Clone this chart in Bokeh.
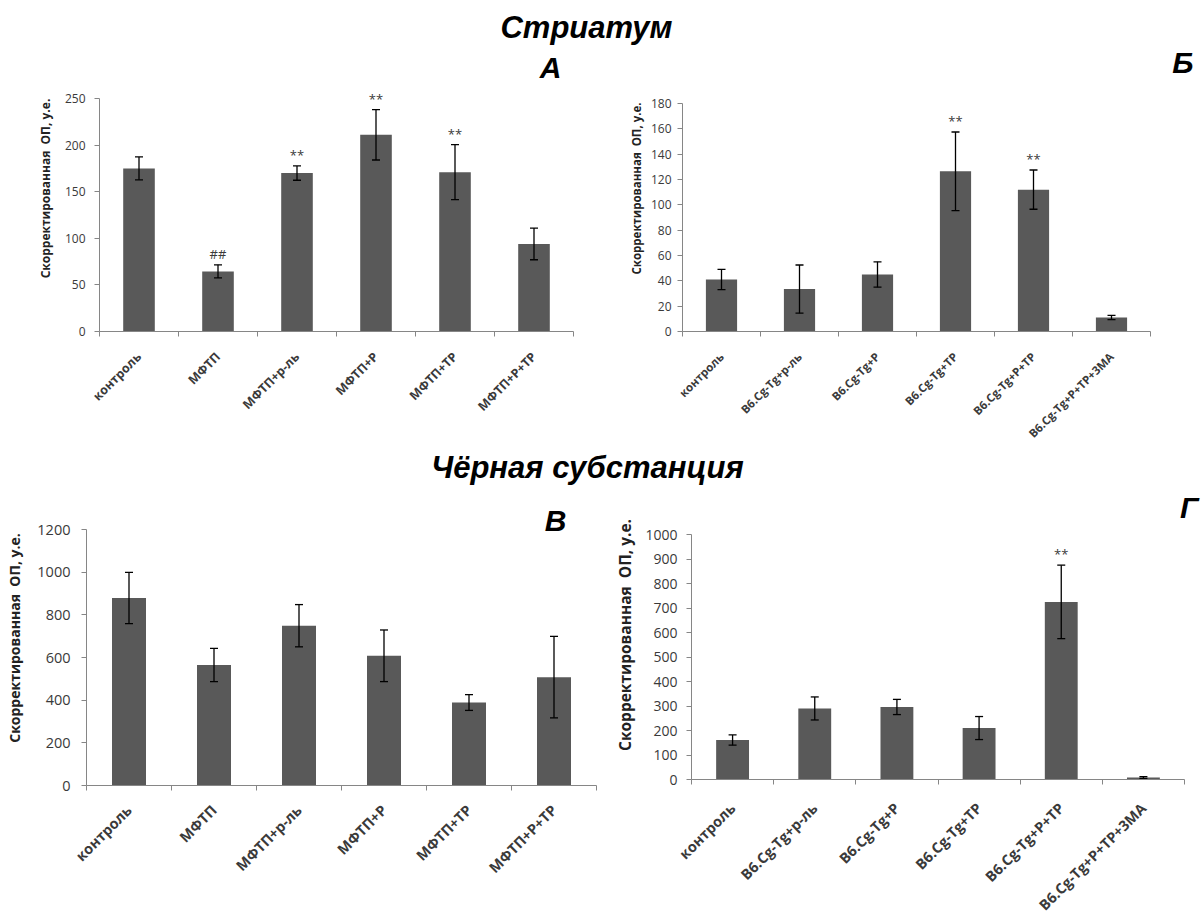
from math import pi

from bokeh.core.properties import value
from bokeh.embed import file_html
from bokeh.layouts import column, row
from bokeh.models import (ColumnDataSource, FixedTicker, Label, LabelSet,
                          Range1d)
from bokeh.plotting import figure
from bokeh.resources import INLINE

# ---- groups -------------------------------------------------------------
mptp_groups = ["контроль", "МФТП", "МФТП+р-ль", "МФТП+Р", "МФТП+ТР", "МФТП+Р+ТР"]
tg_groups = ["контроль", "B6.Cg-Tg+р-ль", "B6.Cg-Tg+Р", "B6.Cg-Tg+ТР",
             "B6.Cg-Tg+Р+ТР", "B6.Cg-Tg+Р+ТР+3МА"]

# ---- striatum, MPTP model (А) -------------------------------------------
str_mptp_mean = [175, 64.5, 170, 211, 171, 94]
str_mptp_sem = [12.3, 7, 7.7, 27, 29.5, 17]
str_mptp_marks = ["", "##", "**", "**", "**", ""]
str_mptp_ticks = [0, 50, 100, 150, 200, 250]

# ---- striatum, transgenic mice (Б) --------------------------------------
str_tg_mean = [41, 33.5, 45, 126.5, 112, 11]
str_tg_sem = [8, 19, 10, 31, 15.5, 1.7]
str_tg_marks = ["", "", "", "**", "**", ""]
str_tg_ticks = [0, 20, 40, 60, 80, 100, 120, 140, 160, 180]

# ---- substantia nigra, MPTP model (В) -----------------------------------
sn_mptp_mean = [879, 565, 749, 608, 389, 508]
sn_mptp_sem = [120, 78, 99, 121, 37, 191]
sn_mptp_marks = ["", "", "", "", "", ""]
sn_mptp_ticks = [0, 200, 400, 600, 800, 1000, 1200]

# ---- substantia nigra, transgenic mice (Г) ------------------------------
sn_tg_mean = [161, 290, 296, 210, 725, 8]
sn_tg_sem = [21, 47, 31, 47, 150, 4]
sn_tg_marks = ["", "", "", "", "**", ""]
sn_tg_ticks = [0, 100, 200, 300, 400, 500, 600, 700, 800, 900, 1000]

Y_TITLE = "Скорректированная\u00a0\u00a0ОП, у.е."
BAR = "#595959"
AXIS = "#868686"
TEXT = "#3a3a3a"
LABEL_FONT = "Open Sans"
HEAD_FONT = "Liberation Sans"


def panel(groups, mean, sem, marks, yticks, size, gaps, style, letter):
    """Bar chart with error bars.

    size  = (canvas width, canvas height)
    gaps  = (left border, bottom border, space above the axis top,
             space right of the axis end)
    The plotting frame fills the canvas above/right of the axes so the
    panel letter and the significance marks are never clipped; the axes
    themselves are limited to the data extent through their bounds.
    """
    w, h = size
    left, bottom, top_gap, right_gap = gaps
    n = len(groups)
    ymax = yticks[-1]
    fw, fh = w - left, h - bottom
    x_end = n * fw / (fw - right_gap)
    y_end = ymax * fh / (fh - top_gap)

    p = figure(width=w, height=h, x_range=Range1d(0, x_end),
               y_range=Range1d(0, y_end),
               toolbar_location=None, output_backend="svg",
               min_border_left=left, min_border_right=0,
               min_border_top=0, min_border_bottom=bottom)
    p.frame_align = False
    p.outline_line_color = None
    p.xgrid.visible = False
    p.ygrid.visible = False

    xs = [i + 0.5 for i in range(n)]
    src = ColumnDataSource(dict(
        x=xs, top=mean,
        upper=[m + s for m, s in zip(mean, sem)],
        lower=[m - s for m, s in zip(mean, sem)],
        mark=marks))

    p.vbar(x="x", top="top", width=0.4, bottom=0, source=src,
           fill_color=BAR, line_color=None)

    # error bars: stem plus caps
    p.segment(x0="x", y0="lower", x1="x", y1="upper", source=src,
              line_color="black", line_width=1.3)
    p.scatter(x="x", y="upper", source=src, marker="dash", size=8,
              line_color="black", line_width=1.3)
    p.scatter(x="x", y="lower", source=src, marker="dash", size=8,
              line_color="black", line_width=1.3)

    p.add_layout(LabelSet(x="x", y="upper", text="mark", source=src,
                          text_align="center", text_baseline="bottom",
                          y_offset=2, text_font=value(LABEL_FONT),
                          text_font_size="13px", text_color=TEXT))

    # x axis: ticks between the groups, names centred under the bars
    xa = p.xaxis[0]
    xa.bounds = (0, n)
    xa.ticker = FixedTicker(ticks=xs, minor_ticks=list(range(n + 1)))
    xa.major_label_overrides = {x: g for x, g in zip(xs, groups)}
    xa.major_label_orientation = pi / 4
    xa.major_tick_out = 0
    xa.major_tick_in = 0
    xa.minor_tick_out = 5
    xa.minor_tick_in = 0
    xa.minor_tick_line_color = AXIS
    xa.axis_line_color = AXIS
    xa.major_label_standoff = style["cat_standoff"]
    xa.major_label_text_font = LABEL_FONT
    xa.major_label_text_font_style = "bold"
    xa.major_label_text_font_size = style["cat_px"]
    xa.major_label_text_color = TEXT

    ya = p.yaxis[0]
    ya.bounds = (0, ymax)
    ya.ticker = FixedTicker(ticks=yticks, minor_ticks=[])
    ya.axis_line_color = AXIS
    ya.major_tick_line_color = AXIS
    ya.major_tick_out = 5
    ya.major_tick_in = 0
    ya.major_label_standoff = style["tick_standoff"]
    ya.major_label_text_font = LABEL_FONT
    ya.major_label_text_font_size = style["tick_px"]
    ya.major_label_text_color = TEXT
    ya.axis_label = Y_TITLE
    ya.axis_label_text_font = LABEL_FONT
    ya.axis_label_text_font_style = "bold"
    ya.axis_label_text_font_size = style["title_px"]
    ya.axis_label_text_color = "#222222"
    ya.axis_label_standoff = style["title_standoff"]

    text, lx, ly, align = letter
    p.add_layout(Label(x=lx, y=ly, x_units="screen", y_units="screen",
                       text=text, text_align=align, text_baseline="middle",
                       text_font=HEAD_FONT, text_font_style="bold italic",
                       text_font_size="30px", text_color="black"))
    return p


def heading(text, w, h, cx, cy):
    p = figure(width=w, height=h, x_range=Range1d(0, w), y_range=Range1d(0, h),
               toolbar_location=None, output_backend="svg", min_border=0)
    p.axis.visible = False
    p.grid.visible = False
    p.outline_line_color = None
    p.text(x=[cx], y=[h - cy], text=[text], text_align="center",
           text_baseline="middle", text_font=value(HEAD_FONT),
           text_font_style="bold italic", text_font_size="31px",
           text_color="black")
    return p


style_a = dict(cat_px="12.5px", cat_standoff=18, tick_px="12px", tick_standoff=9,
               title_px="12px", title_standoff=8)
style_b = dict(cat_px="11.5px", cat_standoff=18, tick_px="12px", tick_standoff=6,
               title_px="11.5px", title_standoff=4)
style_c = dict(cat_px="14.5px", cat_standoff=17, tick_px="14.5px", tick_standoff=11,
               title_px="14px", title_standoff=10)
style_d = dict(cat_px="14.5px", cat_standoff=21, tick_px="14px", tick_standoff=9,
               title_px="15.5px", title_standoff=6)

pa = panel(mptp_groups, str_mptp_mean, str_mptp_sem, str_mptp_marks,
           str_mptp_ticks, (600, 404), (99, 118, 53, 27), style_a,
           ("А", 451, 264, "center"))
pb = panel(tg_groups, str_tg_mean, str_tg_sem, str_tg_marks,
           str_tg_ticks, (602, 404), (82, 118, 58, 52), style_b,
           ("Б", 511, 269, "right"))
pc = panel(mptp_groups, sn_mptp_mean, sn_mptp_sem, sn_mptp_marks,
           sn_mptp_ticks, (600, 434), (86, 139, 39, 4), style_c,
           ("В", 469, 265, "center"))
pd = panel(tg_groups, sn_tg_mean, sn_tg_sem, sn_tg_marks,
           sn_tg_ticks, (602, 434), (91, 145, 44, 18), style_d,
           ("Г", 507, 272, "right"))

h1 = heading("Стриатум", 1202, 45, 586, 27)
h2 = heading("Чёрная субстанция", 1202, 41, 587, 18)

layout = column(h1, row(pa, pb), h2, row(pc, pd))

with open("out.html", "w") as f:
    f.write(file_html(layout, INLINE))
